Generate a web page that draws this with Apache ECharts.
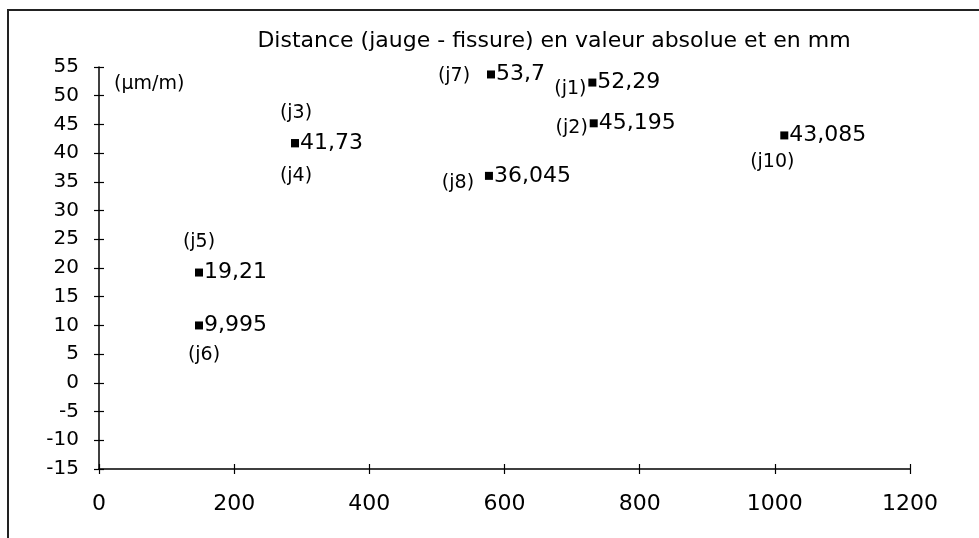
<!DOCTYPE html>
<html>
<head>
<meta charset="utf-8">
<script src="https://cdn.jsdelivr.net/npm/echarts@6/dist/echarts.min.js"></script>
<style>html,body{margin:0;padding:0;background:#fff}#c{width:979px;height:538px}</style>
</head>
<body>
<div id="c"></div>
<script>
// ---- data ----
var gauges    = ['j1', 'j2', 'j3', 'j4', 'j5', 'j6', 'j7', 'j8', 'j10'];
var distances = [730, 732, 290, 290, 148, 148, 580, 577, 1014];
var strains   = [52.29, 45.195, 41.73, 41.73, 19.21, 9.995, 53.7, 36.045, 43.085];
var xTicks    = [0, 200, 400, 600, 800, 1000, 1200];
var yTicks    = [-15, -10, -5, 0, 5, 10, 15, 20, 25, 30, 35, 40, 45, 50, 55];
var titleText = 'Distance (jauge - fissure) en valeur absolue et en mm';
var unitText  = '(\u00b5m/m)';

// ---- layout of the gauge tags (pixel offsets from the marker) ----
var tagOffset = {
  j1: [-22, 6], j2: [-22, 5], j3: [1, -30], j4: [1, 33], j5: [0, -30],
  j6: [5, 30], j7: [-37, 2], j8: [-31, 7], j10: [-12, 27]
};
var showValue = { j3: true, j4: false };

var FONT = 'DejaVu Sans';
var INK = '#000';

var pts = gauges.map(function (g, i) { return { name: g, value: [distances[i], strains[i]] }; });

var chart = echarts.init(document.getElementById('c'), null, { renderer: 'canvas' });
var axisCommonX = { type: 'value', min: xTicks[0], max: xTicks[xTicks.length - 1], interval: 200 };
var axisCommonY = { type: 'value', min: yTicks[0], max: yTicks[yTicks.length - 1], interval: 5 };
var plain = function (v) { return String(v); };

chart.setOption({
  animation: false,
  backgroundColor: '#fff',
  title: {
    text: titleText, left: 549, top: 25, textAlign: 'center',
    textStyle: { fontFamily: FONT, fontSize: 22, fontWeight: 'normal', color: INK }
  },
  graphic: [
    { type: 'rect', shape: { x: 8, y: 10, width: 1000, height: 600 },
      style: { fill: 'none', stroke: '#222', lineWidth: 2 }, silent: true },
    { type: 'text', left: 114, top: 75,
      style: { text: unitText, font: '19px "DejaVu Sans"', fill: INK } }
  ],
  grid: { left: 99, right: 69, top: 67, bottom: 69 },
  xAxis: [
    Object.assign({}, axisCommonX, {
      axisLine: { show: true, onZero: false, lineStyle: { color: '#000', width: 1.5 } },
      axisTick: { show: true, inside: false, length: 5, lineStyle: { color: '#000', width: 1.2 } },
      axisLabel: { margin: 24, fontFamily: FONT, fontSize: 22, color: INK, formatter: plain },
      splitLine: { show: false }
    }),
    Object.assign({}, axisCommonX, {
      position: 'bottom',
      axisLine: { show: false, onZero: false },
      axisTick: { show: true, inside: true, length: 5, lineStyle: { color: '#000', width: 1.2 } },
      axisLabel: { show: false }, splitLine: { show: false }
    })
  ],
  yAxis: [
    Object.assign({}, axisCommonY, {
      axisLine: { show: true, onZero: false, lineStyle: { color: '#000', width: 1.5 } },
      axisTick: { show: true, inside: false, length: 5, lineStyle: { color: '#000', width: 1.2 } },
      axisLabel: { margin: 20, fontFamily: FONT, fontSize: 20, color: INK, formatter: plain },
      splitLine: { show: false }
    }),
    Object.assign({}, axisCommonY, {
      position: 'left',
      axisLine: { show: false, onZero: false },
      axisTick: { show: true, inside: true, length: 5, lineStyle: { color: '#000', width: 1.2 } },
      axisLabel: { show: false }, splitLine: { show: false }
    })
  ],
  series: [
    {
      type: 'scatter', symbol: 'rect', symbolSize: 8,
      itemStyle: { color: '#000', opacity: 1 },
      data: pts.map(function (p) {
        var show = showValue[p.name] !== false;
        return { name: p.name, value: p.value, label: { show: show } };
      }),
      label: {
        show: true, position: 'right', distance: 1,
        fontFamily: FONT, fontSize: 22, color: INK, opacity: 1, textBorderWidth: 0,
        formatter: function (p) { return String(p.value[1]).replace('.', ','); }
      }
    },
    {
      type: 'scatter', symbol: 'rect', symbolSize: 1, silent: true,
      itemStyle: { color: 'rgba(0,0,0,0)' },
      data: pts.map(function (p) {
        return { name: p.name, value: p.value,
          label: { offset: tagOffset[p.name] } };
      }),
      label: {
        show: true, position: 'inside', align: 'center', verticalAlign: 'middle',
        fontFamily: FONT, fontSize: 19, color: INK, opacity: 1, textBorderWidth: 0,
        formatter: function (p) { return '(' + p.name + ')'; }
      }
    }
  ]
});
</script>
</body>
</html>
